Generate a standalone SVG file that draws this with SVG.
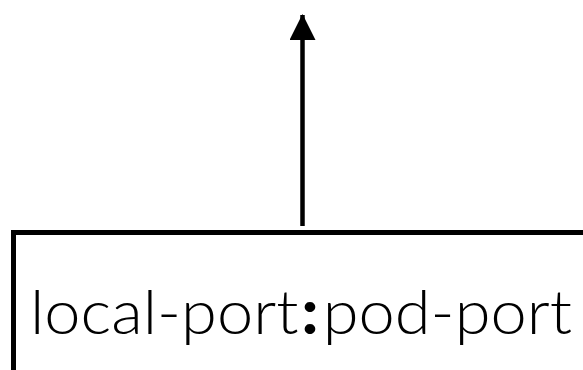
<svg xmlns="http://www.w3.org/2000/svg" width="583" height="370" viewBox="0 0 583 370">
  <style>
    .edge { stroke: #000; stroke-width: 4.5; fill: none; }
    .box { stroke: #000; stroke-width: 5; fill: #fff; }
    .label { font-family: Lato, "Open Sans", sans-serif; font-size: 62px; font-weight: 300; fill: #000; }
    .sep { font-weight: 900; }
  </style>
  <defs>
    <marker id="arrow" markerUnits="userSpaceOnUse" markerWidth="26" markerHeight="26" refX="25" refY="13" orient="auto" viewBox="0 0 26 26">
      <path d="M0,0 L26,13 L0,26 Z" fill="#000"/>
    </marker>
  </defs>
  <g id="connectors">
    <line class="edge" x1="302.5" y1="226" x2="302.5" y2="15" marker-end="url(#arrow)"/>
  </g>
  <g id="port-forward">
    <rect class="box" x="13.5" y="232.5" width="600" height="200"/>
    <text class="label" x="30" y="334" textLength="542" lengthAdjust="spacingAndGlyphs">local-port<tspan class="sep" dx="3">:</tspan><tspan dx="4">pod-port</tspan></text>
  </g>
</svg>
